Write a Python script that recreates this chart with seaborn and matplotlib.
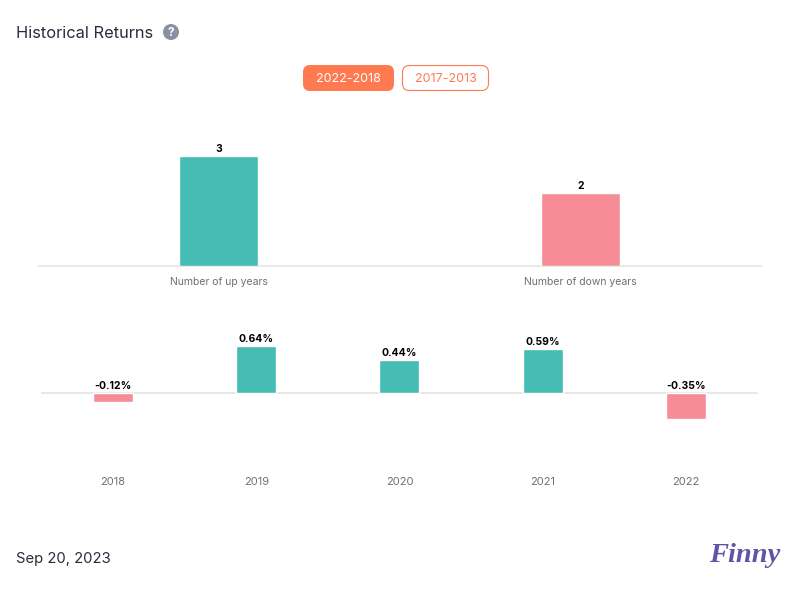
import matplotlib
matplotlib.use('Agg')
import matplotlib.pyplot as plt
from matplotlib.patches import FancyBboxPatch, Circle
import pandas as pd
import seaborn as sns

# Data
count_labels = ['Number of up years', 'Number of down years']
count_values = [3, 2]
years = ['2018', '2019', '2020', '2021', '2022']
year_returns = [-0.12, 0.64, 0.44, 0.59, -0.35]
buttons = ['2022-2018', '2017-2013']

TEAL = '#45BCB4'
PINK = '#F68D96'
ORANGE = '#FF7A50'
DARK = '#2B2B3D'
GREY = '#6F6F78'
LINE = '#E8E8E8'
W, H = 800, 600

sns.set_theme(style='white')
plt.rcParams['font.family'] = ['Inter', 'DejaVu Sans']

fig = plt.figure(figsize=(8, 6), dpi=100)
fig.patch.set_facecolor('white')


def px_axes(left, top, right, bottom):
    return fig.add_axes([left / W, 1 - bottom / H, (right - left) / W, (bottom - top) / H])


def style_axes(ax, pad, size):
    ax.set_xlabel('')
    ax.set_ylabel('')
    ax.set_yticks([])
    ax.tick_params(axis='x', length=0, pad=pad, labelsize=size, labelcolor=GREY)
    sns.despine(ax=ax, left=True, bottom=True)
    ax.patch.set_alpha(0)


# Top chart: up and down years
df_counts = pd.DataFrame({'label': count_labels, 'value': count_values})
ax1 = px_axes(37.5, 130, 761.5, 266)
sns.barplot(data=df_counts, x='label', y='value', hue='label', dodge=False, saturation=1,
            palette=[TEAL, PINK], width=0.22, legend=False, ax=ax1, zorder=3)
ax1.set_ylim(0, 3.72)
ax1.axhline(0, xmin=0.002, xmax=0.999, color=LINE, lw=1.5, zorder=1, clip_on=False)
style_axes(ax1, 8, 7.5)
for i, v in enumerate(count_values):
    ax1.annotate(str(v), (i, v), xytext=(0, 1.5), textcoords='offset points',
                 ha='center', va='bottom', fontsize=7.5, fontweight='bold', color='black')

# Bottom chart: yearly returns
df_years = pd.DataFrame({'year': years, 'ret': year_returns})
ax2 = px_axes(41.4, 320, 757.4, 460)
sns.barplot(data=df_years, x='year', y='ret', hue='year', dodge=False, saturation=1,
            palette=[TEAL if r > 0 else PINK for r in year_returns], width=0.279,
            edgecolor='white', linewidth=1, legend=False, ax=ax2, zorder=3)
ax2.set_ylim(-0.905, 0.986)
ax2.axhline(0, xmin=0.0014, xmax=1, color=LINE, lw=1.5, zorder=1, clip_on=False)
style_axes(ax2, 12, 8)
for i, r in enumerate(year_returns):
    ax2.annotate(f'{r:.2f}%', (i, max(r, 0)), xytext=(0, 1.5), textcoords='offset points',
                 ha='center', va='bottom', fontsize=7.5, fontweight='bold', color='black')

# Page furniture in pixel coordinates
overlay = fig.add_axes([0, 0, 1, 1], zorder=5)
overlay.set_xlim(0, W)
overlay.set_ylim(H, 0)
overlay.axis('off')

overlay.text(16, 33, 'Historical Returns', fontsize=11.8, color=DARK, va='center', ha='left')
overlay.add_patch(Circle((171, 32), 8, color='#8B8FA3', lw=0))
overlay.text(171, 32.5, '?', fontsize=8.5, fontweight='bold', color='white', ha='center', va='center')

overlay.add_patch(FancyBboxPatch((303 + 7, 65 + 7), 91 - 14, 26 - 14, boxstyle='round,pad=7',
                                 fc=ORANGE, ec='none'))
overlay.text(348.5, 78.5, buttons[0], fontsize=9, color='white', ha='center', va='center')
overlay.add_patch(FancyBboxPatch((402.5 + 7, 65.5 + 7), 86 - 14, 25 - 14, boxstyle='round,pad=7',
                                 fc='white', ec=ORANGE, lw=0.8))
overlay.text(445.5, 78.5, buttons[1], fontsize=9, color=ORANGE, ha='center', va='center')

overlay.text(16, 559, 'Sep 20, 2023', fontsize=10.7, color=DARK, va='center', ha='left')
overlay.text(744.5, 556, 'Finny', fontsize=20.5, color='#5F55A8', ha='center', va='center',
             family='Liberation Serif', style='italic', fontweight='bold')

fig.savefig('out.png', dpi=100, facecolor='white')
plt.close(fig)
